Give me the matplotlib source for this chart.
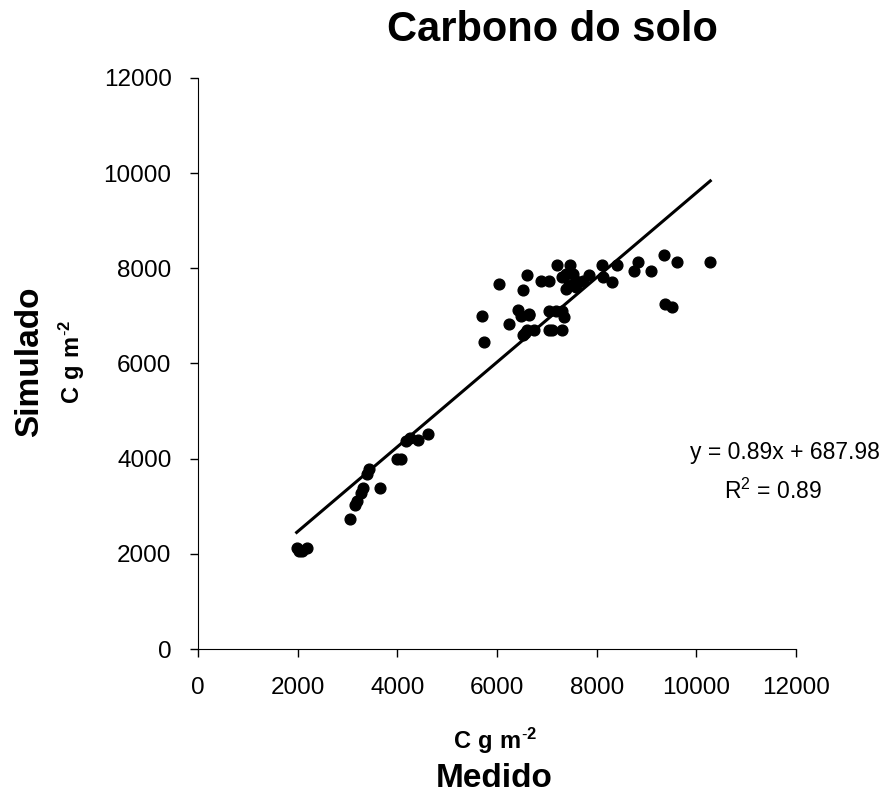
import numpy as np
import matplotlib
matplotlib.use('Agg')
import matplotlib.pyplot as plt

plt.rcParams['font.family'] = ['Liberation Sans', 'DejaVu Sans']
plt.rcParams['mathtext.fontset'] = 'custom'
plt.rcParams['mathtext.rm'] = 'Liberation Sans'
plt.rcParams['mathtext.bf'] = 'Liberation Sans:bold'

# measured vs simulated soil carbon (g C m-2)
medido = [1980, 2020, 2080, 2180, 3050, 3150, 3200, 3270, 3320, 3650, 3400, 3440,
          3990, 4080, 4180, 4250, 4410, 4620,
          5700, 5740, 6050, 6250, 6420, 6490, 6520, 6530, 6570, 6610, 6610, 6640, 6640, 6740,
          6880, 7040, 7040, 7040, 7110, 7180, 7200, 7310, 7310, 7310, 7340, 7380, 7380, 7450,
          7470, 7520, 7580, 7580, 7720, 7850, 8100, 8120, 8310, 8410, 8750, 8830, 9100,
          9350, 9380, 9520, 9620, 10280]
simulado = [2120, 2050, 2060, 2120, 2730, 3020, 3120, 3280, 3380, 3390, 3670, 3790,
            4000, 4000, 4370, 4440, 4400, 4510,
            7000, 6460, 7660, 6830, 7120, 7000, 7550, 6590, 6650, 7850, 6700, 7040, 7020, 6700,
            7740, 7740, 7110, 6700, 6700, 7110, 8060, 7810, 7110, 6700, 6970, 7880, 7570, 7640,
            8060, 7880, 7740, 7600, 7740, 7850, 8060, 7810, 7710, 8060, 7940, 8140, 7940,
            8280, 7260, 7180, 8130, 8130]

slope = 0.89
intercept = 687.98
r2 = 0.89

fig = plt.figure(figsize=(8.83, 7.94), dpi=100)
ax = fig.add_axes([0.2242, 0.1826, 0.6773, 0.7192])

ax.scatter(medido, simulado, s=60, color='black', zorder=3)

# linear trend line over the range of measured values
xl = np.array([min(medido), max(medido)])
ax.plot(xl, slope * xl + intercept, color='black', lw=2.2)

ax.set_xlim(0, 12000)
ax.set_ylim(0, 12000)
ax.set_xticks(np.arange(0, 12001, 2000))
ax.set_yticks(np.arange(0, 12001, 2000))
ax.tick_params(labelsize=17.5, direction='out', length=6, width=1)
ax.tick_params(axis='x', pad=14)
ax.tick_params(axis='y', pad=13)
for s in ['top', 'right']:
    ax.spines[s].set_visible(False)

ax.text(11780, 4130, 'y = %.2fx + %.2f' % (slope, intercept), fontsize=16.5,
        ha='center', va='center', clip_on=False)
ax.text(11530, 3310, '$\\mathregular{R^2}$ = %.2f' % r2, fontsize=16.5,
        ha='center', va='center', clip_on=False)

unid = '$\\mathbf{C\\ g\\ m^{\\text{-}2}}$'
fig.text(0.626, 0.962, 'Carbono do solo', fontsize=30, fontweight='bold', ha='center', va='center')
fig.text(0.561, 0.067, unid, fontsize=17, fontweight='bold', ha='center', va='center')
fig.text(0.560, 0.020, 'Medido', fontsize=24, fontweight='bold', ha='center', va='center')
fig.text(0.034, 0.544, 'Simulado', fontsize=24, fontweight='bold', ha='center', va='center', rotation=90)
fig.text(0.081, 0.544, unid, fontsize=17, fontweight='bold', ha='center', va='center', rotation=90)

fig.savefig('out.png', dpi=100)
